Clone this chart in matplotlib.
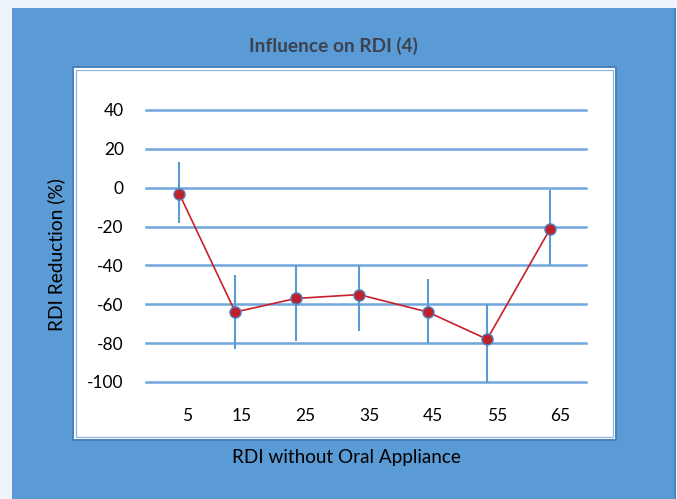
import matplotlib.pyplot as plt
from matplotlib.patches import Rectangle

# values
rdi_without = [5.2, 14.0, 23.5, 33.4, 44.2, 53.5, 63.4]
reduction = [-3, -64, -57, -55, -64, -78, -21]
err_low = [-18, -83, -79, -74, -80, -100, -40]
err_high = [13, -45, -40, -40, -47, -60, -1]
x_ticks = [5, 15, 25, 35, 45, 55, 65]
y_ticks = [-100, -80, -60, -40, -20, 0, 20, 40]

W, H = 677, 499
plt.rcParams['font.family'] = ['Lato', 'DejaVu Sans']
fig = plt.figure(figsize=(W / 100, H / 100), dpi=100, facecolor='#eef4fb')


def box(x0, y0, x1, y1, **kw):
    # rectangle in pixel coords (origin top left)
    r = Rectangle((x0 / W, 1 - y1 / H), (x1 - x0) / W, (y1 - y0) / H,
                  transform=fig.transFigure, zorder=-10, **kw)
    fig.patches.append(r)


box(12, 8, 675, 499, facecolor='#5b9bd5', edgecolor='none')
box(674, 8, 676, 499, facecolor='#4a82bd', edgecolor='none')
box(73, 67, 616, 440, facecolor='white', edgecolor='#4a80ba', lw=1.4)
box(76, 70, 613, 437, facecolor='none', edgecolor='#8db6de', lw=0.9)

ax = fig.add_axes([146 / W, 1 - 382 / H, 440 / W, 272 / H])
ax.patch.set_visible(False)
for s in ax.spines.values():
    s.set_visible(False)
ax.set_xlim(0, 69)
ax.set_ylim(-100, 40)

for v in y_ticks:
    ax.axhline(v, color='#6fa6dc', lw=1.8, zorder=1, clip_on=False)

ax.vlines(rdi_without, err_low, err_high, color='#5b9bd5', lw=1.5, zorder=2,
          clip_on=False)
ax.plot(rdi_without, reduction, color='#c8202a', lw=1.2, marker='o', ms=8,
        mfc='#c0202a', mec='#4f81bd', mew=1, zorder=3, clip_on=False)

ax.set_yticks(y_ticks, labels=[str(v) for v in y_ticks])
ax.set_xticks([v + (1.5 if v == 5 else 0) for v in x_ticks],
              labels=[str(v) for v in x_ticks])
ax.tick_params(axis='y', length=0, pad=16, labelsize=12.5)
ax.tick_params(axis='x', length=0, pad=19, labelsize=12.5)

fig.text(333 / W, 1 - 46 / H, 'Influence on RDI (4)', ha='center', va='center',
         fontsize=13.8, fontweight='bold', color='#3b4350')
fig.text(346 / W, 1 - 457 / H, 'RDI without Oral Appliance', ha='center',
         va='center', fontsize=13.6, color='black')
fig.text(56 / W, 1 - 255 / H, 'RDI Reduction (%)', ha='center', va='center',
         rotation=90, fontsize=13.8, color='black')

fig.savefig('out.png', dpi=100, facecolor=fig.get_facecolor())
